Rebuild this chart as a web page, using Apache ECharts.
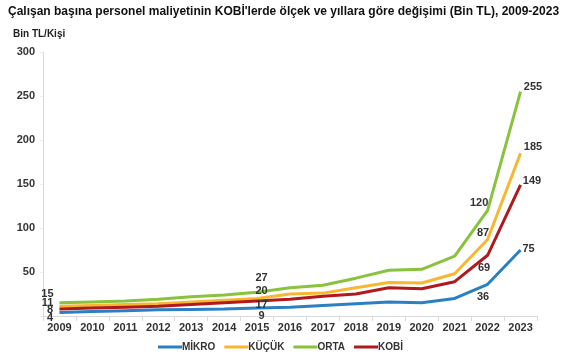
<!DOCTYPE html>
<html><head><meta charset="utf-8">
<script src="https://cdn.jsdelivr.net/npm/echarts@6/dist/echarts.min.js"></script>
<style>html,body{margin:0;padding:0;background:#fff}#c{width:583px;height:357px}</style>
</head><body><div id="c"></div>
<script>
const years = ['2009','2010','2011','2012','2013','2014','2015','2016','2017','2018','2019','2020','2021','2022','2023'];
const mikro = [4,5,6,7,7.5,8,9,10,12,14,16,15,20,36,75];
const kucuk = [11,12,13,14,16,18,20,25,26,32,38,37.5,48,87,185];
const orta  = [15,16,17,19,22,24,27,32,35,43,52,53,68,120,255];
const kobi  = [8,9,10,11,13,15,17,19,22.5,25,32,31,39,69,149];
const seriesNames = ['MİKRO','KÜÇÜK','ORTA','KOBİ'];
const colors = ['#2b7fc3','#f7b731','#89c23c','#b0191e'];

// label offsets from the data point (label centred)
const labelSpec = {
  'MİKRO': {0:[-9.5,5], 6:[4.5,8], 13:[-4.5,13], 14:[8,-1]},
  'KÜÇÜK': {0:[-12,-3], 6:[4.5,-7], 13:[-4.5,-6], 14:[12.5,-6]},
  'ORTA':  {0:[-12,-9], 6:[4.5,-14], 13:[-8.5,-7], 14:[12.5,-5]},
  'KOBİ':  {0:[-9.5,1], 6:[4.5,4], 13:[-3.5,13], 14:[11.5,-4]}
};
const lbl = {fontFamily:'Liberation Sans, Arial', fontWeight:'bold', fontSize:11, color:'#333'};
function build(name, vals){
  return vals.map((v,i)=>{
    const s = labelSpec[name][i];
    if(!s) return {value:v, label:{show:false}};
    return {value:v, label:Object.assign({show:true, position:s, align:'center', verticalAlign:'middle', formatter:String(Math.round(v))}, lbl)};
  });
}
const allData = [mikro,kucuk,orta,kobi];
const chart = echarts.init(document.getElementById('c'));
chart.setOption({
  animation:false,
  backgroundColor:'#fff',
  title:{text:"Çalışan başına personel maliyetinin KOBİ'lerde ölçek ve yıllara göre değişimi (Bin TL), 2009-2023",
    left:8, top:6, padding:0,
    textStyle:{fontFamily:'Liberation Sans, Arial', fontWeight:'bold', fontSize:12, color:'#111'}},
  graphic:[{type:'text', left:13, top:29, style:{text:'Bin TL/Kişi', font:'bold 10px Liberation Sans, Arial', fill:'#222'}}],
  legend:{bottom:0, left:153, itemWidth:24, itemHeight:3, itemGap:9,
    icon:'rect',
    textStyle:{fontFamily:'Liberation Sans, Arial', fontWeight:'bold', fontSize:10, color:'#333', padding:[0,0,0,-5]},
    data:seriesNames},
  grid:{left:43, right:46, top:52, bottom:41},
  xAxis:{type:'category', data:years, boundaryGap:true,
    axisLine:{lineStyle:{color:'#d9d9d9'}},
    axisTick:{show:true, lineStyle:{color:'#d9d9d9'}},
    axisLabel:{fontFamily:'Liberation Sans, Arial', fontWeight:'bold', fontSize:11, color:'#333', margin:6}},
  yAxis:{type:'value', min:0, max:300, interval:50,
    axisLine:{show:true, lineStyle:{color:'#d9d9d9'}},
    axisTick:{show:true, length:3, lineStyle:{color:'#eeeeee'}},
    splitLine:{show:false},
    axisLabel:{fontFamily:'Liberation Sans, Arial', fontWeight:'bold', fontSize:11, color:'#333', margin:8,
      formatter:v=> v===0 ? '' : String(v)}},
  series: seriesNames.map((n,k)=>({
    name:n, type:'line', data:build(n, allData[k]), symbol:'circle', symbolSize:0.01, showSymbol:true,
    lineStyle:{width:3, color:colors[k]}, itemStyle:{color:colors[k]},
    label:{show:false}, labelLayout:{hideOverlap:false}
  }))
});
</script></body></html>
